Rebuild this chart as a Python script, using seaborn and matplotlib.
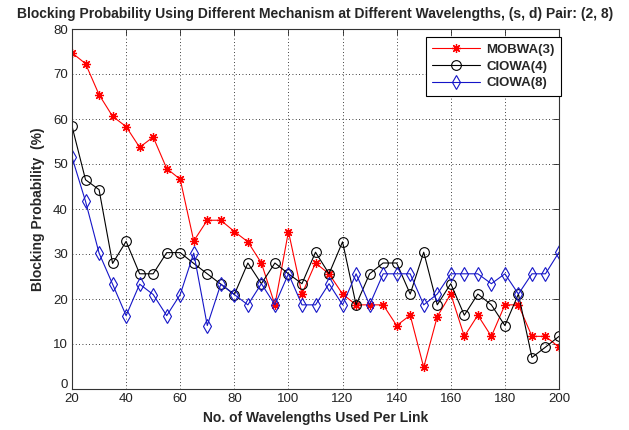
import numpy as np
import pandas as pd
import matplotlib
matplotlib.use("Agg")
import matplotlib.pyplot as plt
import matplotlib.transforms as mtransforms
import seaborn as sns

# ---- data ----
wavelengths = list(range(20, 201, 5))
mobwa3 = [74.7, 72.3, 65.4, 60.6, 58.3, 53.7, 56.0, 49.0, 46.6, 32.9,
          37.5, 37.5, 35.0, 32.7, 28.0, 18.7, 35.0, 21.1, 28.0, 25.6,
          21.1, 18.7, 18.7, 18.7, 14.1, 16.4, 4.8, 16.1, 21.1, 11.7,
          16.4, 11.7, 18.7, 18.7, 11.7, 11.7, 9.3]
ciowa4 = [58.4, 46.5, 44.3, 27.9, 32.8, 25.6, 25.6, 30.3, 30.3, 27.9,
          25.6, 23.3, 21.0, 28.0, 23.4, 28.0, 25.6, 23.4, 30.4, 25.6,
          32.7, 18.7, 25.6, 28.0, 28.0, 21.1, 30.4, 18.7, 23.4, 16.4,
          21.1, 18.7, 14.1, 21.1, 7.0, 9.3, 11.7]
ciowa8 = [51.5, 41.7, 30.2, 23.3, 16.3, 23.3, 21.0, 16.3, 21.0, 30.2,
          14.1, 23.3, 21.0, 18.7, 23.4, 18.7, 25.6, 18.7, 18.7, 23.4,
          18.7, 25.6, 18.7, 25.6, 25.6, 25.6, 18.7, 21.1, 25.6, 25.6,
          25.6, 23.4, 25.6, 21.1, 25.6, 25.6, 30.4]
series_names = ["MOBWA(3)", "CIOWA(4)", "CIOWA(8)"]
x_ticks = list(range(20, 201, 20))
y_ticks = list(range(0, 81, 10))

title = "Blocking Probability Using Different Mechanism at Different Wavelengths, (s, d) Pair: (2, 8)"
xlabel = "No. of Wavelengths Used Per Link"
ylabel = "Blocking Probability  (%)"

sns.set_theme(style="white")
plt.rcParams["font.family"] = ["Liberation Sans", "DejaVu Sans"]

fig = plt.figure(figsize=(6.29, 4.30), dpi=100)
ax = fig.add_axes([72/629, 1 - 389/430, (559-72)/629, (389-29)/430])

styles = [
    dict(color="#ff0000", marker=(8, 2, 0), ms=6.5, mew=0.9),
    dict(color="#000000", marker="o", ms=7, mew=0.8),
    dict(color="#1515c8", marker="d", ms=7, mew=0.8),
]
for name, vals, st in zip(series_names, [mobwa3, ciowa4, ciowa8], styles):
    df = pd.DataFrame({"x": wavelengths, "y": vals})
    sns.lineplot(data=df, x="x", y="y", ax=ax, color=st["color"], lw=0.8,
                 marker=st["marker"], markersize=st["ms"], markerfacecolor="none",
                 markeredgecolor=st["color"], markeredgewidth=st["mew"], label=name)

ax.set_xlim(20, 200)
ax.set_ylim(0, 80)
ax.set_xticks(x_ticks)
ax.set_yticks(y_ticks)
ax.tick_params(direction="in", length=4, width=0.6, top=True, right=True,
               labelsize=9.5, labelcolor="#222222", colors="#222222", pad=3)
ax.grid(True, color="black", linestyle=(0, (1, 3)), linewidth=0.6)
for s in ax.spines.values():
    s.set_color("#333333")
    s.set_linewidth(0.8)

# lift the bottom "0" label slightly, as in the reference
fig.canvas.draw()
ylabels = ax.get_yticklabels()
if ylabels:
    ylabels[0].set_transform(ylabels[0].get_transform() +
                             mtransforms.ScaledTranslation(0, 5/100, fig.dpi_scale_trans))

ax.set_title(title, fontsize=10, fontweight="bold", pad=8)
ax.set_xlabel(xlabel, fontsize=10, fontweight="bold", labelpad=4)
ax.set_ylabel(ylabel, fontsize=10, fontweight="bold", labelpad=6)

leg = ax.legend(loc="upper right", bbox_to_anchor=(1.005, 0.978), borderaxespad=0,
                fancybox=False, framealpha=1, edgecolor="black", handlelength=3.6,
                prop=dict(weight="bold", size=9.5), borderpad=0.5, labelspacing=0.35,
                handletextpad=0.5)
leg.get_frame().set_linewidth(0.8)

fig.savefig("out.png", dpi=100, facecolor="white")
